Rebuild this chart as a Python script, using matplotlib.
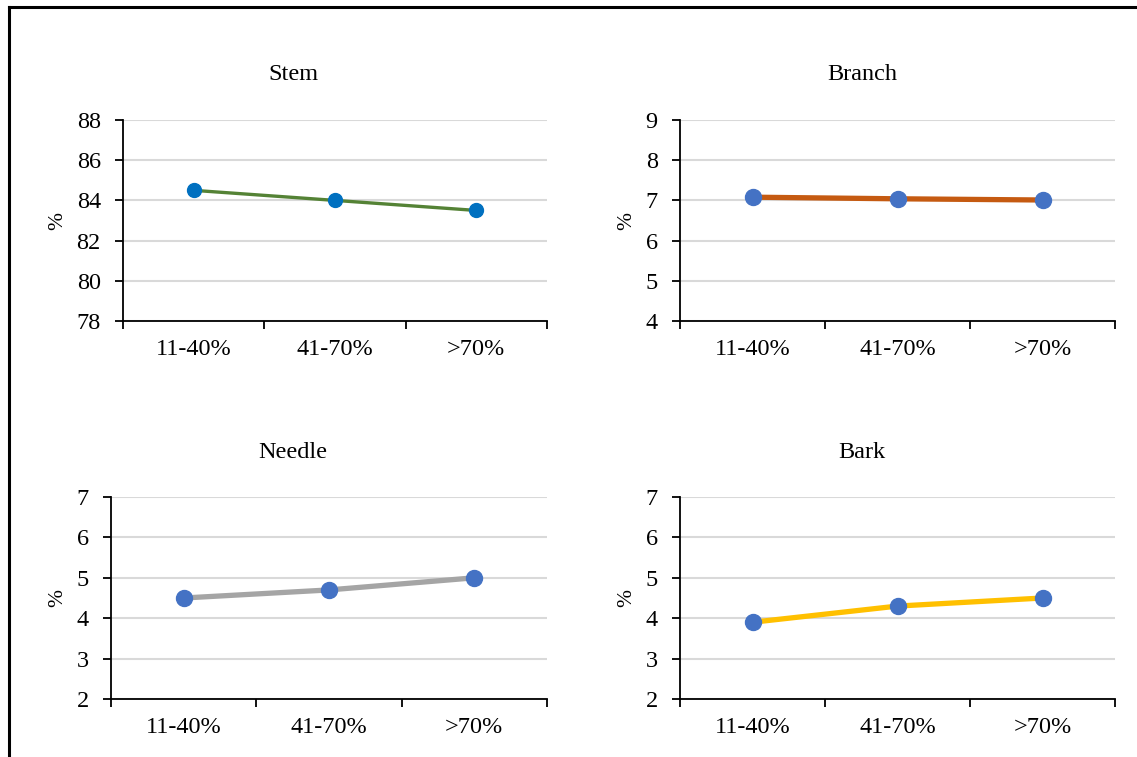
import matplotlib.pyplot as plt
from matplotlib.lines import Line2D
from matplotlib.ticker import FixedLocator

plt.rcParams["font.family"] = ["Liberation Serif", "DejaVu Serif"]

categories = ["11-40%", "41-70%", ">70%"]

stem = [84.5, 84.0, 83.5]
branch = [7.08, 7.04, 7.01]
needle = [4.5, 4.7, 5.0]
bark = [3.9, 4.3, 4.5]

W, H = 1137, 757


def px_rect(left, right, top, bottom):
    return [left / W, 1 - bottom / H, (right - left) / W, (bottom - top) / H]


panels = [
    # title, values, y-range, y-step, line colour, marker colour, line width, marker size, box, title xy, ylabel x
    ("Stem", stem, (78, 88), 2, "#548235", "#0070C0", 2.4, 10, (123, 547, 120, 321), (293, 75), 58),
    ("Branch", branch, (4, 9), 1, "#C55A11", "#4472C4", 3.8, 11.5, (680, 1115, 120, 321), (862, 75), 627),
    ("Needle", needle, (2, 7), 1, "#A5A5A5", "#4472C4", 3.8, 11.5, (111, 547, 497, 699), (293, 452), 58),
    ("Bark", bark, (2, 7), 1, "#FFC000", "#4472C4", 3.8, 11.5, (680, 1115, 497, 699), (862, 452), 627),
]

fig = plt.figure(figsize=(W / 100, H / 100), dpi=100)

for title, vals, (ymin, ymax), step, lc, mc, lw, ms, box, (tx, ty), ylx in panels:
    ax = fig.add_axes(px_rect(*box))
    xs = [i + 0.5 for i in range(len(categories))]
    ax.plot(xs, vals, color=lc, lw=lw, marker="o", markersize=ms,
            markerfacecolor=mc, markeredgecolor=mc, zorder=3, solid_capstyle="round")
    ax.set_xlim(0, len(categories))
    ax.set_ylim(ymin, ymax)
    ax.set_yticks(range(ymin, ymax + 1, step))
    ax.xaxis.set_major_locator(FixedLocator(range(len(categories) + 1)))
    ax.set_xticklabels([])
    ax.xaxis.set_minor_locator(FixedLocator(xs))
    ax.set_xticklabels(categories, minor=True)
    ax.tick_params(axis="x", which="major", direction="out", length=6, width=1.3)
    ax.tick_params(axis="x", which="minor", length=0, pad=13, labelsize=17.5)
    ax.tick_params(axis="y", direction="out", length=6, width=1.3, pad=10, labelsize=17.5)
    ax.grid(axis="y", color="#D9D9D9", lw=1.5)
    ax.set_axisbelow(True)
    for s in ("top", "right"):
        ax.spines[s].set_visible(False)
    for s in ("left", "bottom"):
        ax.spines[s].set_linewidth(1.3)
        ax.spines[s].set_zorder(2.5)
    fig.text(tx / W, 1 - ty / H, title, ha="center", va="center", fontsize=17.5)
    fig.text(ylx / W, 1 - (box[2] + box[3]) / 2 / H, "%", ha="center", va="center",
             rotation=90, fontsize=15.5)

# outer frame (left and top edges only, as cropped in the original)
fig.add_artist(Line2D([8.5 / W, 8.5 / W], [0, 1 - 7 / H], color="black", lw=2.2,
                      transform=fig.transFigure))
fig.add_artist(Line2D([8.5 / W, 1], [1 - 7 / H, 1 - 7 / H], color="black", lw=2.2,
                      transform=fig.transFigure))

fig.savefig("out.png", dpi=100)
